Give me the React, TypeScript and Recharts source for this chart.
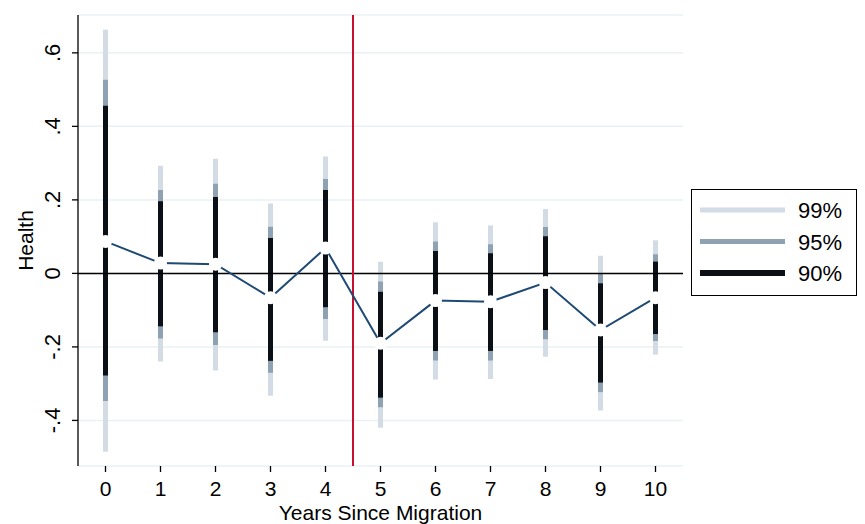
import React from "react";
import {
  ComposedChart,
  Bar,
  Line,
  XAxis,
  YAxis,
  CartesianGrid,
  ReferenceLine,
} from "recharts";

const years = [0, 1, 2, 3, 4, 5, 6, 7, 8, 9, 10];
const coef = [0.087, 0.028, 0.025, -0.066, 0.069, -0.19, -0.074, -0.077, -0.025, -0.154, -0.066];
const lo90 = [-0.278, -0.144, -0.16, -0.238, -0.092, -0.338, -0.211, -0.211, -0.154, -0.297, -0.165];
const hi90 = [0.456, 0.196, 0.208, 0.096, 0.227, -0.05, 0.061, 0.055, 0.101, -0.027, 0.032];
const lo95 = [-0.347, -0.177, -0.195, -0.27, -0.124, -0.364, -0.237, -0.237, -0.179, -0.323, -0.184];
const hi95 = [0.527, 0.227, 0.244, 0.127, 0.257, -0.022, 0.087, 0.079, 0.126, -0.001, 0.052];
const lo99 = [-0.485, -0.24, -0.264, -0.333, -0.183, -0.42, -0.289, -0.287, -0.227, -0.373, -0.221];
const hi99 = [0.663, 0.293, 0.312, 0.19, 0.318, 0.032, 0.139, 0.13, 0.175, 0.048, 0.09];
const yTicks = [-0.4, -0.2, 0, 0.2, 0.4, 0.6];
const legendItems = [
  { name: "99%", color: "#d3dce5", width: 5 },
  { name: "95%", color: "#8ea2b4", width: 5 },
  { name: "90%", color: "#0b1016", width: 6 },
];

const rows = years.map((year, i) => ({
  year,
  coef: coef[i],
  ci99: [lo99[i], hi99[i]],
  ci95: [lo95[i], hi95[i]],
  ci90: [lo90[i], hi90[i]],
}));

const FONT = "'Liberation Sans', Arial, sans-serif";

const fmtY = (v: number) => (v === 0 ? "0" : v.toFixed(1).replace("0.", "."));

// plot box: left 78, right 683, top 15, bottom 466
const YTick = (props: any) => {
  const { y, payload } = props;
  const tx = 60;
  return (
    <g>
      <line x1={72} x2={78} y1={y} y2={y} stroke="#000" strokeWidth={1.3} />
      <text
        x={tx}
        y={y}
        transform={`rotate(-90, ${tx}, ${y})`}
        textAnchor="middle"
        fontSize={22}
        fontFamily={FONT}
        fill="#000"
      >
        {fmtY(payload.value)}
      </text>
    </g>
  );
};

const XTick = (props: any) => {
  const { x, payload } = props;
  return (
    <g>
      <line x1={x} x2={x} y1={466} y2={472} stroke="#000" strokeWidth={1.3} />
      <text x={x} y={496} textAnchor="middle" fontSize={21} fontFamily={FONT} fill="#000">
        {payload.value}
      </text>
    </g>
  );
};

const LegendBox = () => (
  <svg
    width={166}
    height={107}
    style={{ position: "absolute", left: 691, top: 189, display: "block" }}
  >
    <rect x={0.5} y={0.5} width={165} height={106} fill="#fff" stroke="#000" strokeWidth={1} />
    {legendItems.map((it, i) => (
      <g key={it.name}>
        <line x1={9} x2={94} y1={21 + i * 31.5} y2={21 + i * 31.5} stroke={it.color} strokeWidth={it.width} />
        <text x={107} y={29 + i * 31.5} fontSize={22} fontFamily={FONT} fill="#000">
          {it.name}
        </text>
      </g>
    ))}
  </svg>
);

export default function App() {
  return (
    <div style={{ position: "absolute", left: 0, top: 0, width: 865, height: 524, background: "#fff" }}>
      <ComposedChart
        width={865}
        height={524}
        data={rows}
        margin={{ top: 15, right: 182, bottom: 0, left: 0 }}
      >
        <CartesianGrid horizontal vertical={false} stroke="#eaf0f3" strokeWidth={1.5} xAxisId="a99" />
        <XAxis
          xAxisId="a99"
          dataKey="year"
          type="number"
          domain={[-0.5, 10.5]}
          ticks={years}
          interval={0}
          height={58}
          axisLine={{ stroke: "#000", strokeWidth: 1.3 }}
          tickLine={false}
          tick={XTick}
          label={{
            content: () => (
              <text x={380.5} y={519.5} textAnchor="middle" fontSize={21} fontFamily={FONT} fill="#000">
                Years Since Migration
              </text>
            ),
          }}
        />
        <XAxis xAxisId="a95" dataKey="year" type="number" domain={[-0.5, 10.5]} hide />
        <XAxis xAxisId="a90" dataKey="year" type="number" domain={[-0.5, 10.5]} hide />
        <YAxis
          width={78}
          type="number"
          domain={[-0.524, 0.703]}
          ticks={yTicks}
          allowDataOverflow
          axisLine={{ stroke: "#000", strokeWidth: 1.3 }}
          tickLine={false}
          tick={YTick}
          label={{
            content: () => (
              <text
                x={33}
                y={240.5}
                transform="rotate(-90, 33, 240.5)"
                textAnchor="middle"
                fontSize={21}
                fontFamily={FONT}
                fill="#000"
              >
                Health
              </text>
            ),
          }}
        />
        <Bar xAxisId="a99" dataKey="ci99" fill="#d3dce5" barSize={5} isAnimationActive={false} />
        <Bar xAxisId="a95" dataKey="ci95" fill="#8ea2b4" barSize={5} isAnimationActive={false} />
        <Bar xAxisId="a90" dataKey="ci90" fill="#0b1016" barSize={5} isAnimationActive={false} />
        <ReferenceLine xAxisId="a99" y={0} stroke="#000" strokeWidth={1.5} />
        <ReferenceLine xAxisId="a99" x={4.5} stroke="#c8102e" strokeWidth={2} />
        <Line
          xAxisId="a99"
          dataKey="coef"
          type="linear"
          stroke="#1f4a73"
          strokeWidth={2}
          dot={{ r: 6.5, fill: "#fff", stroke: "none" }}
          activeDot={false}
          isAnimationActive={false}
        />
      </ComposedChart>
      <LegendBox />
    </div>
  );
}
